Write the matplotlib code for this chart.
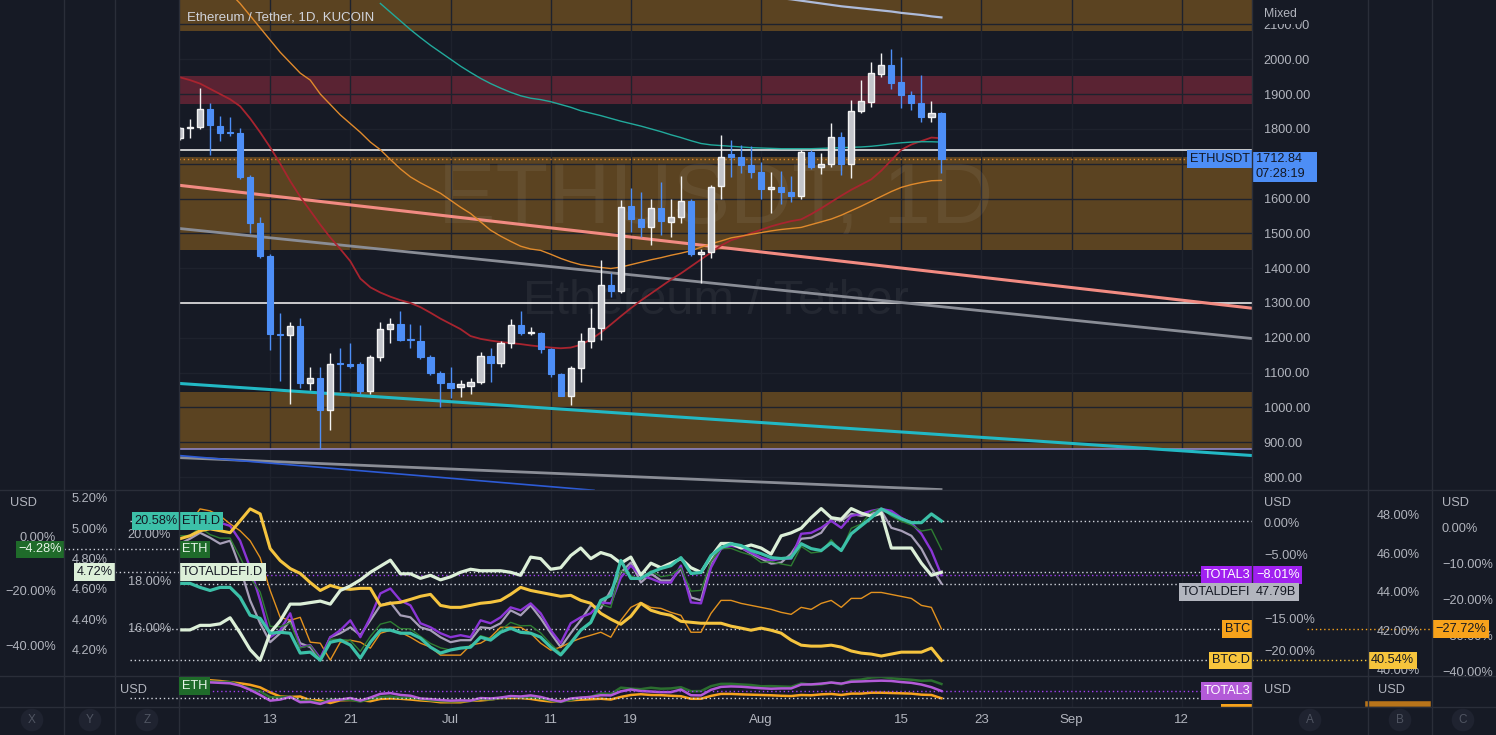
import numpy as np
import matplotlib.pyplot as plt
from matplotlib.ticker import FuncFormatter
from matplotlib.transforms import blended_transform_factory as blend
from matplotlib.lines import Line2D
from matplotlib.patches import Rectangle

W, H = 1496, 735
BG = '#161a25'
GRID = '#1e222d'
SEP = '#2a2e39'
TXT = '#b2b5be'
DARK = '#131722'
UP_FILL, UP_EDGE = '#c3c5cb', '#f2f2f2'
DN = '#4d8ef6'
ORZ = '#5b4321'
RDZ = '#5a2333'

plt.rcParams['font.family'] = ['Liberation Sans', 'DejaVu Sans']

# ---------------- data ----------------
# ETH/USDT daily bars, 2022-06-04 ... 2022-08-19 (index 0 = Jun 4)
opens = [1773, 1802, 1805, 1856, 1807, 1789, 1787, 1661, 1529, 1434,
         1210, 1207, 1233, 1069, 1086, 994, 1126, 1126, 1124, 1046,
         1144, 1224, 1241, 1195, 1192, 1144, 1098, 1069, 1058, 1063,
         1072, 1149, 1129, 1184, 1236, 1213, 1215, 1167, 1095, 1034,
         1112, 1190, 1227, 1353, 1333, 1578, 1540, 1517, 1572, 1532,
         1546, 1592, 1440, 1445, 1635, 1728, 1718, 1695, 1675, 1627,
         1633, 1618, 1606, 1733, 1690, 1698, 1776, 1700, 1851, 1877,
         1957, 1983, 1934, 1897, 1873, 1833, 1845]
highs = [1806, 1828, 1917, 1874, 1836, 1833, 1802, 1668, 1546, 1440,
         1270, 1244, 1256, 1115, 1115, 1155, 1172, 1186, 1130, 1152,
         1244, 1256, 1278, 1241, 1236, 1152, 1105, 1115, 1080, 1086,
         1160, 1172, 1190, 1253, 1276, 1232, 1218, 1172, 1100, 1118,
         1213, 1287, 1422, 1385, 1595, 1630, 1618, 1600, 1646, 1600,
         1664, 1600, 1454, 1640, 1782, 1767, 1753, 1750, 1704, 1675,
         1680, 1665, 1740, 1740, 1730, 1816, 1791, 1882, 1940, 1991,
         2017, 2030, 2006, 1910, 1954, 1879, 1848]
lows = [1768, 1773, 1800, 1724, 1764, 1780, 1655, 1500, 1428, 1164,
        1075, 1011, 1055, 1049, 882, 935, 1046, 1114, 1040, 1040,
        1132, 1185, 1190, 1172, 1140, 1092, 1000, 1026, 1030, 1040,
        1068, 1072, 1115, 1170, 1208, 1208, 1155, 1088, 1032, 1006,
        1072, 1170, 1193, 1318, 1330, 1503, 1490, 1466, 1495, 1490,
        1530, 1436, 1356, 1430, 1600, 1661, 1672, 1658, 1600, 1557,
        1585, 1590, 1600, 1685, 1670, 1690, 1668, 1660, 1846, 1862,
        1950, 1915, 1860, 1855, 1820, 1820, 1672]
closes = [1802, 1804, 1856, 1810, 1787, 1787, 1661, 1529, 1434, 1210,
          1207, 1233, 1069, 1086, 994, 1126, 1124, 1118, 1046, 1144,
          1224, 1241, 1195, 1193, 1144, 1098, 1069, 1055, 1066, 1072,
          1149, 1129, 1184, 1236, 1213, 1215, 1167, 1095, 1034, 1112,
          1190, 1227, 1353, 1333, 1575, 1540, 1517, 1572, 1534, 1546,
          1592, 1440, 1445, 1632, 1718, 1720, 1695, 1675, 1627, 1633,
          1618, 1606, 1733, 1690, 1698, 1776, 1700, 1851, 1880, 1960,
          1983, 1931, 1897, 1873, 1833, 1845, 1712.84]

# moving averages
ma_red = [1948, 1940, 1930, 1915, 1900, 1885, 1865, 1830, 1790, 1747,
          1700, 1650, 1605, 1565, 1525, 1488, 1455, 1420, 1370, 1345,
          1330, 1318, 1308, 1300, 1288, 1272, 1255, 1240, 1225, 1205,
          1197, 1192, 1188, 1185, 1182, 1178, 1175, 1172, 1170, 1172,
          1180, 1195, 1215, 1238, 1262, 1285, 1307, 1327, 1347, 1367,
          1385, 1405, 1425, 1445, 1465, 1480, 1490, 1500, 1510, 1520,
          1528, 1535, 1540, 1555, 1572, 1590, 1608, 1625, 1640, 1655,
          1680, 1710, 1740, 1755, 1765, 1775, 1773]
ma_orange = [2330, 2300, 2270, 2240, 2215, 2190, 2160, 2125, 2090, 2055,
             2020, 1990, 1960, 1940, 1900, 1870, 1840, 1815, 1790, 1762,
             1740, 1712, 1685, 1662, 1645, 1630, 1615, 1595, 1575, 1557,
             1533, 1509, 1492, 1477, 1463, 1455, 1451, 1440, 1428, 1418,
             1410, 1406, 1402, 1399, 1403, 1410, 1417, 1424, 1430, 1437,
             1443, 1450, 1460, 1470, 1478, 1487, 1492, 1497, 1502, 1507,
             1511, 1514, 1517, 1525, 1533, 1541, 1552, 1565, 1578, 1592,
             1606, 1620, 1632, 1640, 1646, 1651, 1652]
ma_teal = [None] * 20 + [
    2160, 2135, 2110, 2085, 2062, 2040, 2020, 2000, 1980, 1962,
    1945, 1930, 1917, 1905, 1895, 1888, 1884, 1878, 1870, 1862,
    1852, 1845, 1838, 1830, 1822, 1815, 1808, 1800, 1792, 1783,
    1775, 1766, 1758, 1754, 1752, 1750, 1748, 1746, 1745, 1744,
    1743, 1743, 1743, 1743, 1744, 1745, 1746, 1747, 1748, 1750,
    1753, 1757, 1760, 1762, 1763, 1763, 1762]
ma_lav = [None] * 60 + [
    2175, 2172, 2168, 2164, 2160, 2156, 2152, 2149, 2146, 2143,
    2140, 2137, 2133, 2130, 2127, 2123, 2120]

# drawn trend lines: (day0, price0) -> (day1, price1)
trend_x0 = [-0.1, -0.1, -0.1, -0.1, -0.1]
trend_p0 = [1638, 1514, 1069, 856, 862]
trend_x1 = [107.0, 107.0, 107.0, 76.1, 41.4]
trend_p1 = [1285, 1198, 862, 764, 762]

# zones (price ranges) and horizontal levels
zone_lo = [2080, 1871, 1451, 880]
zone_hi = [2300, 1951, 1718, 1043]
zone_red = [False, True, False, False]
levels_white = [1738, 1300]
level_lav = 881

# comparison pane series
btc_d = [46.82, 46.97, 47.23, 47.33, 47.23, 47.13, 47.74, 48.36, 48.10, 46.31,
         45.69, 45.28, 45.03, 44.56, 44.15, 44.41, 44.26, 44.21, 44.26, 44.26,
         43.38, 43.49, 43.54, 43.69, 43.85, 43.95, 43.38, 43.28, 43.28, 43.38,
         43.49, 43.54, 43.64, 43.95, 44.31, 44.15, 44.05, 43.95, 43.85, 43.90,
         43.64, 43.49, 42.97, 42.67, 42.41, 42.82, 43.49, 43.13, 42.97, 42.87,
         42.56, 42.51, 42.46, 42.46, 42.46, 42.31, 42.21, 42.10, 42.21, 42.10,
         41.95, 41.59, 41.33, 41.28, 41.28, 41.33, 41.23, 41.03, 40.92, 40.87,
         40.77, 40.87, 40.97, 40.97, 40.97, 41.18, 40.54]
eth_d = [17.94, 17.94, 17.77, 17.64, 17.77, 17.77, 17.35, 16.59, 16.46, 15.83,
         15.87, 15.83, 14.99, 15.03, 14.69, 15.45, 15.54, 15.33, 14.78, 15.45,
         15.96, 15.96, 15.83, 15.83, 15.62, 15.24, 14.99, 15.12, 15.20, 15.24,
         15.66, 15.54, 15.87, 16.04, 15.87, 15.83, 15.66, 15.24, 14.91, 15.41,
         15.96, 16.29, 17.22, 17.43, 18.91, 18.15, 18.15, 18.40, 18.57, 18.69,
         19.03, 18.36, 18.40, 19.12, 19.45, 19.62, 19.54, 19.33, 19.20, 19.03,
         18.99, 19.03, 19.62, 19.41, 19.33, 19.66, 19.33, 20.04, 20.38, 20.72,
         21.09, 20.88, 20.67, 20.51, 20.51, 20.88, 20.58]
defi_d = [4.34, 4.34, 4.37, 4.37, 4.38, 4.42, 4.32, 4.21, 4.14, 4.32,
          4.40, 4.51, 4.51, 4.52, 4.53, 4.51, 4.60, 4.63, 4.67, 4.72,
          4.76, 4.80, 4.71, 4.71, 4.68, 4.70, 4.67, 4.69, 4.72, 4.74,
          4.73, 4.73, 4.73, 4.72, 4.70, 4.82, 4.81, 4.74, 4.75, 4.83,
          4.88, 4.81, 4.85, 4.83, 4.78, 4.82, 4.70, 4.78, 4.75, 4.78,
          4.81, 4.75, 4.72, 4.82, 4.91, 4.91, 4.88, 4.90, 4.88, 4.84,
          4.96, 4.98, 5.01, 5.08, 5.14, 5.08, 5.07, 5.14, 5.11, 5.09,
          5.11, 4.88, 4.88, 4.88, 4.78, 4.70, 4.72]
total3_pct = [0.00, 0.47, 0.93, 0.62, 0.16, -0.31, -2.64, -6.82, -11.94, -17.67,
              -16.59, -13.95, -19.22, -18.91, -20.93, -17.67, -16.59, -15.04, -17.67, -14.57,
              -10.85, -10.08, -11.94, -12.71, -15.50, -16.12, -17.05, -17.67, -17.36, -17.67,
              -15.04, -15.50, -14.57, -13.02, -13.49, -12.40, -13.95, -16.59, -18.60, -15.50,
              -14.57, -13.95, -12.25, -12.40, -8.37, -6.51, -8.06, -8.53, -9.15, -9.15,
              -6.51, -12.25, -12.40, -6.82, -3.88, -3.41, -3.72, -4.50, -5.27, -5.74,
              -5.43, -5.43, -1.55, -1.40, -0.62, 0.47, -0.62, 1.24, 1.55, 2.02,
              2.33, 2.02, 0.93, 0.16, -1.55, -4.19, -8.01]
totaldefi_b = [52.59, 53.19, 53.91, 53.31, 52.59, 52.95, 49.71, 45.75, 42.99, 40.71,
               41.79, 43.35, 40.59, 40.11, 38.55, 41.31, 41.79, 42.51, 41.55, 43.35,
               45.15, 45.51, 43.95, 43.71, 42.51, 42.15, 41.31, 40.71, 40.95, 40.95,
               42.51, 42.39, 42.99, 44.55, 43.95, 45.15, 43.59, 41.79, 40.11, 41.79,
               43.35, 45.15, 44.79, 46.95, 49.11, 50.31, 47.91, 48.99, 48.15, 48.15,
               49.59, 46.11, 45.75, 50.31, 51.99, 52.59, 52.11, 51.39, 50.79, 50.19,
               50.31, 51.39, 53.19, 53.31, 53.91, 55.59, 55.35, 56.19, 55.95, 56.19,
               56.55, 54.51, 54.15, 53.55, 51.99, 49.71, 47.79]
btc_pct = [0.00, 1.65, 5.51, 4.96, 3.58, 1.38, -0.55, -3.31, -7.99, -17.08,
           -24.52, -25.34, -24.52, -31.40, -31.68, -36.36, -31.40, -30.85, -31.40, -33.06,
           -28.93, -28.10, -28.65, -30.03, -31.68, -32.78, -34.99, -34.99, -34.99, -32.23,
           -31.68, -30.03, -27.27, -27.27, -27.27, -28.93, -31.68, -33.61, -32.78, -31.40,
           -30.30, -29.48, -28.65, -30.03, -25.34, -21.76, -20.39, -21.76, -22.04, -23.14,
           -23.97, -28.65, -28.65, -23.42, -19.83, -19.83, -20.66, -21.21, -21.76, -22.31,
           -23.14, -23.69, -21.76, -22.31, -20.66, -19.83, -21.76, -19.28, -19.28, -17.63,
           -17.63, -18.18, -18.73, -19.28, -21.21, -21.76, -27.72]
ETH_BASE = 1789.4   # 0% reference of the ETH comparison

tick_days = [9, 17, 27, 37, 45, 58, 72, 80, 89, 100]
tick_labels = ['13', '21', 'Jul', '11', '19', 'Aug', '15', '23', 'Sep', '12']

# ---------------- layout helpers ----------------
XLIM = (-0.1, 107.0)
fig = plt.figure(figsize=(W / 100, H / 100), dpi=100, facecolor=BG)


def rect(x0, y0, x1, y1):
    return [x0 / W, 1 - y1 / H, (x1 - x0) / W, (y1 - y0) / H]


def fx(xp):
    return (xp - 179) / 1073


def base_axes(r, ylim):
    a = fig.add_axes(r, facecolor=BG)
    a.set_xlim(*XLIM)
    a.set_ylim(*ylim)
    for s in a.spines.values():
        s.set_visible(False)
    a.set_xticks(tick_days)
    a.tick_params(axis='x', length=0, labelbottom=False)
    a.tick_params(axis='y', length=0, labelleft=False)
    a.grid(axis='x', color=GRID, lw=1)
    a.set_axisbelow(True)
    return a


def overlay(r, ylim):
    a = fig.add_axes(r, facecolor='none')
    a.set_xlim(*XLIM)
    a.set_ylim(*ylim)
    a.axis('off')
    return a


def tag(host, ref, xp, y, s, fc, tc, ha='left', size=9.2, va='center'):
    host.text(fx(xp), y, s, transform=blend(host.transAxes, ref.transData),
              ha=ha, va=va, fontsize=size, color=tc, clip_on=False, zorder=30,
              bbox=dict(boxstyle='square,pad=0.22', fc=fc, ec='none'))


def label(host, ref, xp, y, s, ha='left', color=TXT, size=9.2):
    host.text(fx(xp), y, s, transform=blend(host.transAxes, ref.transData),
              ha=ha, va='center', fontsize=size, color=color, clip_on=False, zorder=5)


def dots(host, ref, y, xp0, xp1, color, lw=1.0):
    host.plot([fx(xp0), fx(xp1)], [y, y], transform=blend(host.transAxes, ref.transData),
              ls=(0, (1, 2)), lw=lw, color=color, clip_on=False, zorder=2)


def ftext(xp, yp, s, color=TXT, size=9.2, ha='left', **kw):
    fig.text(xp / W, 1 - yp / H, s, color=color, fontsize=size, ha=ha, va='center', **kw)


def pct(v):
    return f'{v:.2f}%'.replace('-', '\u2212')


days = np.arange(len(closes))
last = closes[-1]

# ---------------- main price pane ----------------
ax = base_axes(rect(179, 0, 1252, 490), (763, 2170))
ax.set_yticks(np.arange(800, 2101, 100))
# the tick hidden behind the last-price tag is left blank
ax.yaxis.set_major_formatter(FuncFormatter(
    lambda v, _: '' if abs(v - last) < 40 else f'{v:.2f}'))
ax.yaxis.tick_right()
ax.tick_params(axis='y', length=0, pad=8.5, labelsize=9.2, labelcolor=TXT,
               labelright=True, labelleft=False)
ax.grid(axis='y', color=GRID, lw=1)

for lo, hi, red in zip(zone_lo, zone_hi, zone_red):
    ax.axhspan(lo, hi, color=RDZ if red else ORZ, lw=0, zorder=0.5)
for lv in levels_white:
    ax.axhline(lv, color='#e8e8e8', lw=1.2, zorder=2)
ax.axhline(level_lav, color='#8e86c6', lw=1.2, zorder=2)

ax.text(0.5, 0.59, 'ETHUSDT, 1D', transform=ax.transAxes, ha='center', va='center',
        fontsize=62, color='#ffffff', alpha=0.06, zorder=0.8)
ax.text(0.5, 0.385, 'Ethereum / Tether', transform=ax.transAxes, ha='center', va='center',
        fontsize=35, color='#ffffff', alpha=0.06, zorder=0.8)

trend_style = [('#f28b82', 2.2), ('#8a8d96', 2.0), ('#22b8c4', 2.2),
               ('#8a8d96', 2.0), ('#2d5bd6', 1.2)]
for x0, p0, x1, p1, (col, lw) in zip(trend_x0, trend_p0, trend_x1, trend_p1, trend_style):
    ax.plot([x0, x1], [p0, p1], color=col, lw=lw, zorder=2.2, solid_capstyle='butt')

ax.plot(days, np.array(ma_red, float), color='#a8242f', lw=1.3, zorder=2.5)
ax.plot(days, np.array(ma_orange, float), color='#e08a2c', lw=1.0, zorder=2.5)
ax.plot(days, np.array(ma_teal, float), color='#22aa9c', lw=1.0, zorder=2.5)
ax.plot(days, np.array(ma_lav, float), color='#aebbd9', lw=1.6, zorder=2.5)

o, h, l, c = (np.array(v, float) for v in (opens, highs, lows, closes))
up = c >= o
body_lo = np.minimum(o, c)
body_h = np.maximum(np.abs(c - o), 4)
ax.vlines(days[up], l[up], h[up], color=UP_EDGE, lw=1, zorder=3)
ax.vlines(days[~up], l[~up], h[~up], color=DN, lw=1, zorder=3)
ax.bar(days[up], body_h[up], 0.62, body_lo[up], color=UP_FILL, edgecolor=UP_EDGE, lw=1, zorder=4)
ax.bar(days[~up], body_h[~up], 0.62, body_lo[~up], color=DN, edgecolor=DN, lw=0.8, zorder=4)

# last price line and its tags
ax.axhline(last, color='#d9822b', lw=1, ls=(0, (1, 2)), zorder=2)
tag(ax, ax, 1250, last, 'ETHUSDT', '#4d8ef6', DARK, ha='right')
ptr = blend(ax.transAxes, ax.transData)
ax.add_patch(Rectangle((fx(1253), last - 66), fx(1317) - fx(1253), 86, transform=ptr,
                       fc='#4d8ef6', ec='none', clip_on=False, zorder=29))
ax.text(fx(1256), last, f'{last:.2f}', transform=ptr, ha='left', va='center',
        fontsize=9.2, color=DARK, clip_on=False, zorder=31)
ax.text(fx(1256), last - 42, '07:28:19', transform=ptr, ha='left', va='center',
        fontsize=9.2, color=DARK, clip_on=False, zorder=31)
ax.text(0.007, 0.965, 'Ethereum / Tether, 1D, KUCOIN', transform=ax.transAxes,
        ha='left', va='center', fontsize=9.5, color='#d1d4dc', zorder=10)

# ---------------- comparison pane ----------------
MID = rect(179, 491, 1252, 676)
ax_m = base_axes(MID, (0, 1))
ax_defi = overlay(MID, (36.63, 58.95))
ax_btc = overlay(MID, (-40.77, 10.47))
ax_t3 = overlay(MID, (-23.72, 5.12))
ax_eth = overlay(MID, tuple(ETH_BASE * (1 + np.array([-50.55, 17.09]) / 100)))
ax_btcd = overlay(MID, (39.74, 49.28))
ax_defid = overlay(MID, (4.036, 5.256))
ax_ethd = overlay(MID, (14.02, 21.85))
ax_lab = overlay(MID, (0, 1))

ax_defi.plot(days, totaldefi_b, color='#a79fb8', lw=1.6)
ax_btc.plot(days, btc_pct, color='#e3921f', lw=1.0)
ax_t3.plot(days, total3_pct, color='#8b35d6', lw=1.7)
ax_eth.plot(days, closes, color='#2e7d32', lw=1.0)
ax_btcd.plot(days, btc_d, color='#f5c43f', lw=2.2)
ax_defid.plot(days, defi_d, color='#dcefd8', lw=2.3)
ax_ethd.plot(days, eth_d, color='#3cc0a8', lw=2.3)

# last-value dotted lines
W_DOT = '#d1d4dc'
dots(ax_m, ax_ethd, eth_d[-1], 130, 1252, W_DOT)
dots(ax_m, ax_defid, defi_d[-1], 115, 1252, W_DOT)
dots(ax_m, ax_t3, total3_pct[-1], 179, 1202, '#a040f0')
dots(ax_m, ax_defi, totaldefi_b[-1], 179, 1252, W_DOT)
dots(ax_m, ax_btc, btc_pct[-1], 130, 1252, W_DOT)
dots(ax_m, ax_btc, btc_pct[-1], 1307, 1432, '#f7a21b')
dots(ax_m, ax_btcd, btc_d[-1], 130, 1252, W_DOT)
dots(ax_m, ax_btcd, btc_d[-1], 1252, 1368, '#f7c53c')
dots(ax_m, ax_eth, closes[-1], 64, 180, W_DOT)

# axis labels of each scale
for p in [0, -20, -40]:
    label(ax_m, ax_eth, 56, ETH_BASE * (1 + p / 100), pct(p), ha='right')
for v in [5.2, 5.0, 4.8, 4.6, 4.4, 4.2]:
    label(ax_m, ax_defid, 108, v, pct(v), ha='right')
for v in [20, 18, 16]:
    label(ax_m, ax_ethd, 171, v, pct(v), ha='right')
for v in [0, -5, -15, -20]:
    label(ax_m, ax_t3, 1264, v, pct(v))
for v in [48, 46, 44, 42, 40]:
    label(ax_m, ax_btcd, 1377, v, pct(v))
for v in [0, -10, -20, -30, -40]:
    label(ax_m, ax_btc, 1442, v, pct(v))
ftext(10, 503, 'USD')
ftext(1264, 503, 'USD')
ftext(1442, 503, 'USD')

# value tags
tag(ax_lab, ax_ethd, 182, eth_d[-1], 'ETH.D', '#3cc0a8', DARK)
tag(ax_lab, ax_ethd, 178, eth_d[-1], pct(eth_d[-1]), '#3cc0a8', DARK, ha='right')
tag(ax_lab, ax_eth, 182, closes[-1], 'ETH', '#1f6b2a', '#e8f5e9')
tag(ax_lab, ax_eth, 62, closes[-1], pct((closes[-1] / ETH_BASE - 1) * 100), '#1f6b2a',
    '#e8f5e9', ha='right')
tag(ax_lab, ax_defid, 182, defi_d[-1], 'TOTALDEFI.D', '#dcefd8', DARK)
tag(ax_lab, ax_defid, 113, defi_d[-1], pct(defi_d[-1]), '#dcefd8', DARK, ha='right')
tag(ax_lab, ax_t3, 1250, total3_pct[-1], 'TOTAL3', '#a020f0', '#ffffff', ha='right')
tag(ax_lab, ax_t3, 1256, total3_pct[-1], pct(total3_pct[-1]), '#a020f0', '#ffffff')
ftext(1250, 592, 'TOTALDEFI', color=DARK, ha='right',
      bbox=dict(boxstyle='square,pad=0.22', fc='#b2b5be', ec='none'))
ftext(1256, 592, f'{totaldefi_b[-1]:.2f}B', color=DARK,
      bbox=dict(boxstyle='square,pad=0.22', fc='#b2b5be', ec='none'))
tag(ax_lab, ax_btc, 1250, btc_pct[-1], 'BTC', '#f7a21b', DARK, ha='right')
tag(ax_lab, ax_btc, 1435, btc_pct[-1], pct(btc_pct[-1]), '#f7a21b', DARK)
tag(ax_lab, ax_btcd, 1250, btc_d[-1], 'BTC.D', '#f7c53c', DARK, ha='right')
tag(ax_lab, ax_btcd, 1371, btc_d[-1], pct(btc_d[-1]), '#f7c53c', DARK)

# ---------------- small bottom pane ----------------
BOT = rect(179, 677, 1252, 707)
ax_b = base_axes(BOT, (0, 1))
ax_b.tick_params(axis='x', labelbottom=True, pad=5, labelsize=9.5, labelcolor=TXT)
ax_b.set_xticklabels(tick_labels)
ax_bb = overlay(BOT, (-43.6, 10.9))
ax_be = overlay(BOT, (842, 1978))
ax_bt = overlay(BOT, (-24, 6))
ax_bb.plot(days, btc_pct, color='#f5a21e', lw=1.8)
ax_be.plot(days, closes, color='#2b6e2f', lw=1.8)
ax_bt.plot(days, total3_pct, color='#b35ad8', lw=1.8)
ax_bl = overlay(BOT, (0, 1))
dots(ax_bl, ax_bt, total3_pct[-1], 179, 1202, '#a040f0')
dots(ax_bl, ax_bb, btc_pct[-1], 130, 1252, W_DOT)
ax_bl.add_patch(Rectangle((fx(1221), 0.0), fx(1252) - fx(1221), 0.1,
                          transform=ax_bl.transAxes, fc='#f7a21b', ec='none',
                          clip_on=False, zorder=20))
tag(ax_bl, ax_bt, 1250, total3_pct[-1], 'TOTAL3', '#b35ad8', '#ffffff', ha='right')
ftext(182, 686, 'ETH', color='#e8f5e9',
      bbox=dict(boxstyle='square,pad=0.22', fc='#1f6b2a', ec='none'))
ftext(147, 690, 'USD', ha='right')
ftext(1264, 690, 'USD')
ftext(1378, 690, 'USD')
fig.add_artist(Line2D([1368 / W, 1428 / W], [1 - 704 / H, 1 - 704 / H],
                      color='#b8741a', lw=4, transform=fig.transFigure))

ftext(1264, 14, 'Mixed', size=8.8,
      bbox=dict(boxstyle='square,pad=0.3', fc=BG, ec='none'))

# separators
for yp in [490, 676, 707]:
    fig.add_artist(Line2D([0, 1], [1 - yp / H] * 2, color=SEP, lw=1))
for xp in [64, 115, 179, 1252, 1368, 1432]:
    fig.add_artist(Line2D([xp / W] * 2, [0, 1], color=SEP, lw=1))

for xp, s in [(32, 'X'), (90, 'Y'), (147, 'Z'), (1310, 'A'), (1400, 'B'), (1463, 'C')]:
    ftext(xp, 720, s, color='#505562', size=8.5, ha='center',
          bbox=dict(boxstyle='circle,pad=0.45', fc='#1f2330', ec='none'))

fig.savefig('out.png', dpi=100, facecolor=BG)
